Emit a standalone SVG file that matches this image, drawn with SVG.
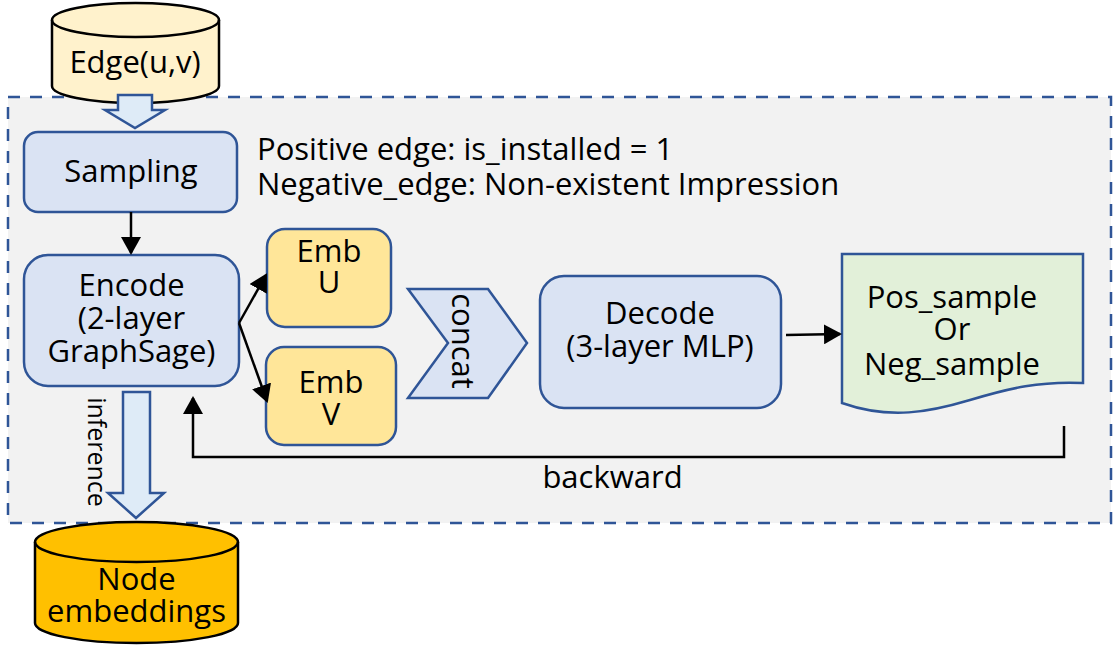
<svg xmlns="http://www.w3.org/2000/svg" width="1115" height="646" viewBox="0 0 1115 646">
  <style>
    text { font-family: "Open Sans", "Noto Sans", "Liberation Sans", sans-serif; fill: #000; }
    .t { font-size: 31px; text-anchor: middle; }
    .tl { font-size: 31px; text-anchor: start; }
    .box { fill: #dae3f3; stroke: #2f5597; stroke-width: 2.5; }
    .emb { fill: #ffe699; stroke: #2f5597; stroke-width: 2.5; }
    .hollow { fill: #deebf7; stroke: #2f5597; stroke-width: 2.5; stroke-linejoin: miter; }
    .con { fill: none; stroke: #000; stroke-width: 2.5; }
    .cyl { stroke: #000; stroke-width: 2.5; }
  </style>
  <defs>
    <marker id="ah" viewBox="0 0 18 20" refX="16" refY="10" markerWidth="18" markerHeight="20" markerUnits="userSpaceOnUse" orient="auto">
      <path d="M0,0 L18,10 L0,20 Z" fill="#000"/>
    </marker>
  </defs>

  <!-- container -->
  <g id="container">
    <rect x="8" y="97" width="1103" height="426" fill="#f2f2f2" stroke="#2f5597" stroke-width="2.5" stroke-dasharray="12 10"/>
  </g>

  <!-- Edge(u,v) -->
  <g id="edge-uv">
    <path class="cyl" fill="#fff2cc" d="M52,20 L52,86 A83.5,17 0 0 0 219,86 L219,20 A83.5,17 0 0 0 52,20 Z"/>
    <path class="cyl" fill="none" d="M52,20 A83.5,17 0 0 0 219,20"/>
    <text class="t" x="135" y="73">Edge(u,v)</text>
  </g>

  <!-- hollow arrow Edge -> Sampling -->
  <g id="arrow-in">
    <path class="hollow" d="M118,95 L152,95 L152,110 L165,110 L135,128 L105,110 L118,110 Z"/>
  </g>

  <g id="sampling">
    <rect class="box" x="24" y="132" width="213" height="80" rx="14"/>
    <text class="t" x="131" y="182">Sampling</text>
  </g>

  <g id="sampling-note">
    <text class="tl" x="257" y="160">Positive edge: is_installed = 1</text>
    <text class="tl" x="257" y="195">Negative_edge: Non-existent Impression</text>
  </g>

  <g id="encode">
    <rect class="box" x="24" y="255" width="215" height="131" rx="24"/>
    <text class="t" x="131.5" y="296">Encode</text>
    <text class="t" x="131.5" y="329">(2-layer</text>
    <text class="t" x="131.5" y="362">GraphSage)</text>
  </g>

  <g id="emb-u">
    <rect class="emb" x="267" y="229" width="124" height="98" rx="18"/>
    <text class="t" x="329" y="262">Emb</text>
    <text class="t" x="329" y="293">U</text>
  </g>

  <g id="emb-v">
    <rect class="emb" x="266" y="347" width="130" height="98" rx="18"/>
    <text class="t" x="331" y="393">Emb</text>
    <text class="t" x="331" y="425">V</text>
  </g>

  <g id="concat">
    <polygon points="408,289 488,289 527,343 488,398 408,398 448,343" fill="#dae3f3" stroke="#2f5597" stroke-width="2.5"/>
    <text class="t" transform="translate(452,341) rotate(90)" x="0" y="0">concat</text>
  </g>

  <g id="decode">
    <rect class="box" x="540" y="276" width="241" height="132" rx="24"/>
    <text class="t" x="660" y="324">Decode</text>
    <text class="t" x="660" y="357">(3-layer MLP)</text>
  </g>

  <g id="sample-doc">
    <path d="M842,254 L1083,254 L1083,383 C1040,381 1010,388 970,400 C930,412 890,420 842,403 Z" fill="#e2f0d9" stroke="#2f5597" stroke-width="2.5"/>
    <text class="t" x="952" y="308">Pos_sample</text>
    <text class="t" x="952" y="340">Or</text>
    <text class="t" x="952" y="375">Neg_sample</text>
  </g>

  <!-- inference hollow arrow -->
  <g id="inference-arrow">
    <path class="hollow" d="M123,392 L150,392 L150,493 L164,493 L136,518 L108,493 L123,493 Z"/>
    <text style="font-size:25px;text-anchor:middle" transform="translate(88,452) rotate(90)" x="0" y="0">inference</text>
  </g>

  <g id="node-embeddings">
    <path class="cyl" fill="#ffc000" d="M35,542 L35,623 A101.5,20 0 0 0 238,623 L238,542 A101.5,20 0 0 0 35,542 Z"/>
    <path class="cyl" fill="none" d="M35,542 A101.5,20 0 0 0 238,542"/>
    <text class="t" x="136.5" y="590">Node</text>
    <text class="t" x="136.5" y="622">embeddings</text>
  </g>

  <!-- connectors -->
  <g id="connectors">
    <line class="con" x1="131" y1="212" x2="131" y2="253" marker-end="url(#ah)"/>
    <line class="con" x1="239" y1="323" x2="266" y2="275" marker-end="url(#ah)"/>
    <line class="con" x1="239" y1="323" x2="267" y2="401" marker-end="url(#ah)"/>
    <line class="con" x1="786" y1="335" x2="840" y2="334" marker-end="url(#ah)"/>
    <polyline class="con" points="1064,426 1064,457 193,457 193,398" marker-end="url(#ah)"/>
    <text class="t" x="612.5" y="488">backward</text>
  </g>
</svg>
